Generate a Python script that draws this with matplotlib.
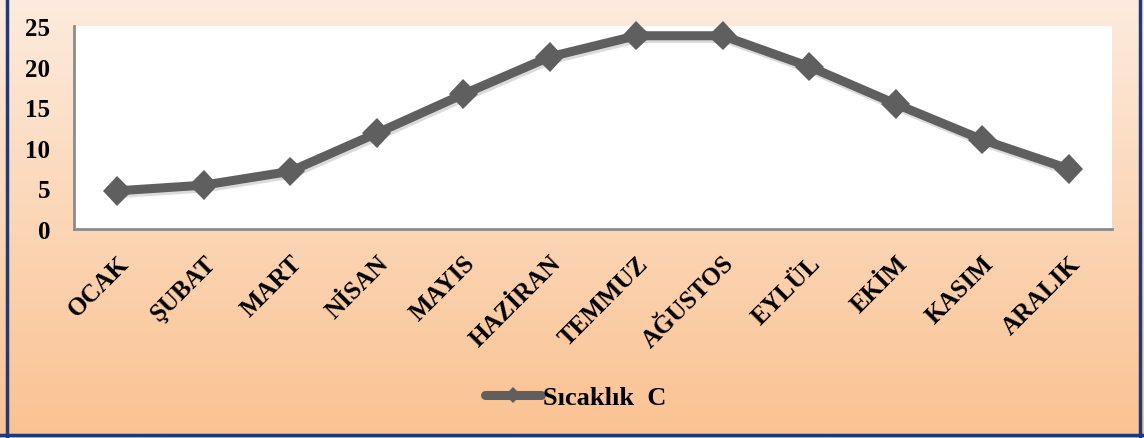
import numpy as np
import matplotlib
matplotlib.use("Agg")
import matplotlib.pyplot as plt
import matplotlib.patheffects as pe
from matplotlib.colors import LinearSegmentedColormap

# monthly temperatures
months = ["OCAK", "ŞUBAT", "MART", "NİSAN", "MAYIS", "HAZİRAN",
          "TEMMUZ", "AĞUSTOS", "EYLÜL", "EKİM", "KASIM", "ARALIK"]
temps = [4.7, 5.4, 7.1, 11.8, 16.6, 21.2, 23.8, 23.8, 20.0, 15.4, 11.0, 7.4]
yticks = [0, 5, 10, 15, 20, 25]
series_name = "Sıcaklık  C"

plt.rcParams['font.family'] = ['Liberation Serif', 'DejaVu Serif']
plt.rcParams['font.weight'] = 'bold'

W, H = 1144, 439
fig = plt.figure(figsize=(W / 100, H / 100), dpi=100)

# peach gradient behind everything
bg = fig.add_axes([0, 0, 1, 1], zorder=-10)
cmap = LinearSegmentedColormap.from_list("peach", ["#fdebdd", "#fac291"])
grad = np.linspace(0, 1, 256).reshape(-1, 1)
bg.imshow(grad, aspect="auto", cmap=cmap, extent=[0, 1, 0, 1], origin="upper")
bg.set_xlim(0, 1)
bg.set_ylim(0, 1)
bg.axis("off")
# frame lines
bg.plot([7 / W, 7 / W], [0, 1], color="#1f3a7a", lw=2.5)
bg.plot([1140 / W, 1140 / W], [0, 1], color="#1f3a7a", lw=2.5)
bg.plot([0, 1], [3 / H, 3 / H], color="#1f3a7a", lw=2.5)

left, right, top, bottom = 74, 1112, 27, 230
ax = fig.add_axes([left / W, 1 - bottom / H, (right - left) / W, (bottom - top) / H])
ax.set_facecolor("white")

x = np.arange(len(months))
shadow = [pe.SimpleLineShadow(offset=(1, -2), shadow_color="#999999", alpha=0.35), pe.Normal()]
ax.plot(x, temps, color="#5f5f5f", lw=6.5, marker="D", markersize=15,
        markeredgewidth=0, path_effects=shadow, clip_on=False, solid_joinstyle="miter")

ax.set_xlim(-0.5, len(months) - 0.5)
ax.set_ylim(0, 25)
ax.set_yticks(yticks)
ax.set_yticklabels([str(v) for v in yticks], fontsize=18, fontweight="bold")
ax.set_xticks(x)
ax.set_xticklabels(months, rotation=45, ha="right", rotation_mode="anchor",
                   fontsize=18, fontweight="bold")
ax.tick_params(axis="both", length=0)
ax.tick_params(axis="y", pad=17)
ax.tick_params(axis="x", pad=16)
for s in ["top", "right"]:
    ax.spines[s].set_visible(False)
for s in ["left", "bottom"]:
    ax.spines[s].set_color("#8c8c8c")
    ax.spines[s].set_linewidth(2)

# legend handle: thick rounded line with a small diamond
handle, = ax.plot([], [], color="#5f5f5f", lw=6.5, marker="D", markersize=8,
                  markeredgewidth=0, solid_capstyle="round")
fig.legend(handles=[handle], labels=[series_name], loc="center",
           bbox_to_anchor=(576 / W, 1 - 398 / H), frameon=False,
           handlelength=2.1, handletextpad=0.1,
           prop={"weight": "bold", "size": 19})

fig.savefig("out.png", dpi=100)
